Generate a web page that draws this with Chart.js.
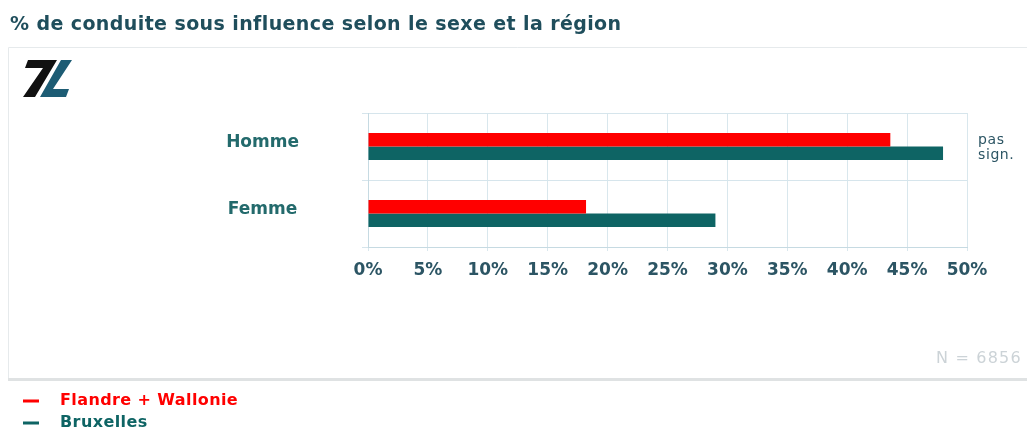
<!DOCTYPE html>
<html lang="fr">
<head>
<meta charset="utf-8">
<title>% de conduite sous influence selon le sexe et la région</title>
<script src="https://cdn.jsdelivr.net/npm/chart.js@4/dist/chart.umd.min.js"></script>
<style>
  html, body { margin: 0; padding: 0; background: #ffffff; }
  #wrap { position: relative; width: 1027px; height: 432px; }
</style>
</head>
<body>
<div id="wrap"><canvas id="chart" width="1027" height="432"></canvas></div>
<script>
// Data
const categories = ['Homme', 'Femme'];
const seriesNames = ['Flandre + Wallonie', 'Bruxelles'];
const flandreWallonie = [43.6, 18.2];
const bruxelles = [48.0, 29.0];
const tickValues = [0, 5, 10, 15, 20, 25, 30, 35, 40, 45, 50];
const chartTitle = '% de conduite sous influence selon le sexe et la région';
const significanceNote = ['pas', 'sign.'];
const sampleSize = 'N = 6856';

const RED = '#ff0000';
const TEAL = '#0e6464';
const SLATE = '#2c5564';

function spaced(ctx, px) {
  if ('letterSpacing' in ctx) ctx.letterSpacing = px + 'px';
}

// Frame, title, logo, notes and legend drawn around the chart area
const decorations = {
  id: 'decorations',
  beforeDraw(chart) {
    const ctx = chart.ctx;
    ctx.save();
    // outer panel
    ctx.fillStyle = '#ffffff';
    ctx.fillRect(8, 47, 1019, 332);
    ctx.strokeStyle = '#e6eaec';
    ctx.lineWidth = 1;
    ctx.beginPath();
    ctx.moveTo(8.5, 379);
    ctx.lineTo(8.5, 47.5);
    ctx.lineTo(1027, 47.5);
    ctx.stroke();
    ctx.fillStyle = '#dfe2e3';
    ctx.fillRect(8, 378, 1019, 3);
    ctx.restore();
  },
  afterDraw(chart) {
    const ctx = chart.ctx;
    const area = chart.chartArea;
    ctx.save();
    // title
    ctx.fillStyle = '#1f4e5c';
    ctx.font = 'bold 19px "DejaVu Sans"';
    spaced(ctx, 0.4);
    ctx.textBaseline = 'alphabetic';
    ctx.textAlign = 'left';
    ctx.fillText(chartTitle, 10, 30);

    // logo
    spaced(ctx, 0);
    ctx.fillStyle = '#111111';
    ctx.beginPath();
    ctx.moveTo(28, 60); ctx.lineTo(57, 60); ctx.lineTo(35, 97);
    ctx.lineTo(23, 97); ctx.lineTo(43, 68); ctx.lineTo(25, 68);
    ctx.closePath(); ctx.fill();
    ctx.fillStyle = '#1d5c74';
    ctx.beginPath();
    ctx.moveTo(61, 60); ctx.lineTo(72, 60); ctx.lineTo(53, 89);
    ctx.lineTo(69, 89); ctx.lineTo(66, 97); ctx.lineTo(40, 97);
    ctx.closePath(); ctx.fill();

    // significance note beside the first category
    const yScale = chart.scales.y;
    const yc = yScale.getPixelForValue(0);
    ctx.fillStyle = SLATE;
    ctx.font = '14px "DejaVu Sans"';
    spaced(ctx, 0.6);
    ctx.textBaseline = 'middle';
    ctx.fillText(significanceNote[0], area.right + 11, yc - 6);
    ctx.fillText(significanceNote[1], area.right + 11, yc + 9);

    // sample size
    ctx.fillStyle = '#ccd3d7';
    ctx.font = '16px "DejaVu Sans"';
    spaced(ctx, 1.2);
    ctx.fillText(sampleSize, 936, 359);

    // legend
    const colors = chart.data.datasets.map(d => d.backgroundColor);
    chart.data.datasets.forEach((ds, i) => {
      const y = 401 + i * 22;
      spaced(ctx, 0);
      ctx.fillStyle = colors[i];
      ctx.fillRect(23, y - 1.5, 16, 3);
      ctx.font = 'bold 16px "DejaVu Sans"';
      spaced(ctx, 0.4);
      ctx.textBaseline = 'middle';
      ctx.fillText(ds.label, 60, y);
    });
    ctx.restore();
  }
};

new Chart(document.getElementById('chart'), {
  type: 'bar',
  data: {
    labels: categories,
    datasets: [
      { label: seriesNames[0], data: flandreWallonie, backgroundColor: RED,
        categoryPercentage: 0.4, barPercentage: 1.0 },
      { label: seriesNames[1], data: bruxelles, backgroundColor: TEAL,
        categoryPercentage: 0.4, barPercentage: 1.0 }
    ]
  },
  options: {
    indexAxis: 'y',
    responsive: false,
    animation: false,
    layout: { padding: { top: 113, right: 60, bottom: 145, left: 0 } },
    plugins: {
      legend: { display: false },
      title: { display: false },
      tooltip: { enabled: false }
    },
    scales: {
      x: {
        min: 0, max: 50,
        afterBuildTicks(scale) { scale.ticks = tickValues.map(v => ({ value: v })); },
        afterFit(scale) { scale.height = 40; },
        grid: { color: '#d9e7ed', tickLength: 4, lineWidth: 1 },
        border: { color: '#c6dae2' },
        ticks: {
          color: SLATE,
          padding: 9,
          maxRotation: 0,
          autoSkip: false,
          font: { family: '"DejaVu Sans"', weight: 'bold', size: 17 },
          callback: v => v + '%'
        }
      },
      y: {
        afterFit(scale) { scale.width = 368; },
        grid: { color: '#d6e5ec', tickLength: 6, offset: true },
        border: { color: '#c6dae2' },
        ticks: {
          color: '#236a6c',
          crossAlign: 'center',
          padding: 63,
          labelOffset: -4,
          font: { family: '"DejaVu Sans"', weight: 'bold', size: 17 }
        }
      }
    }
  },
  plugins: [decorations]
});
</script>
</body>
</html>
